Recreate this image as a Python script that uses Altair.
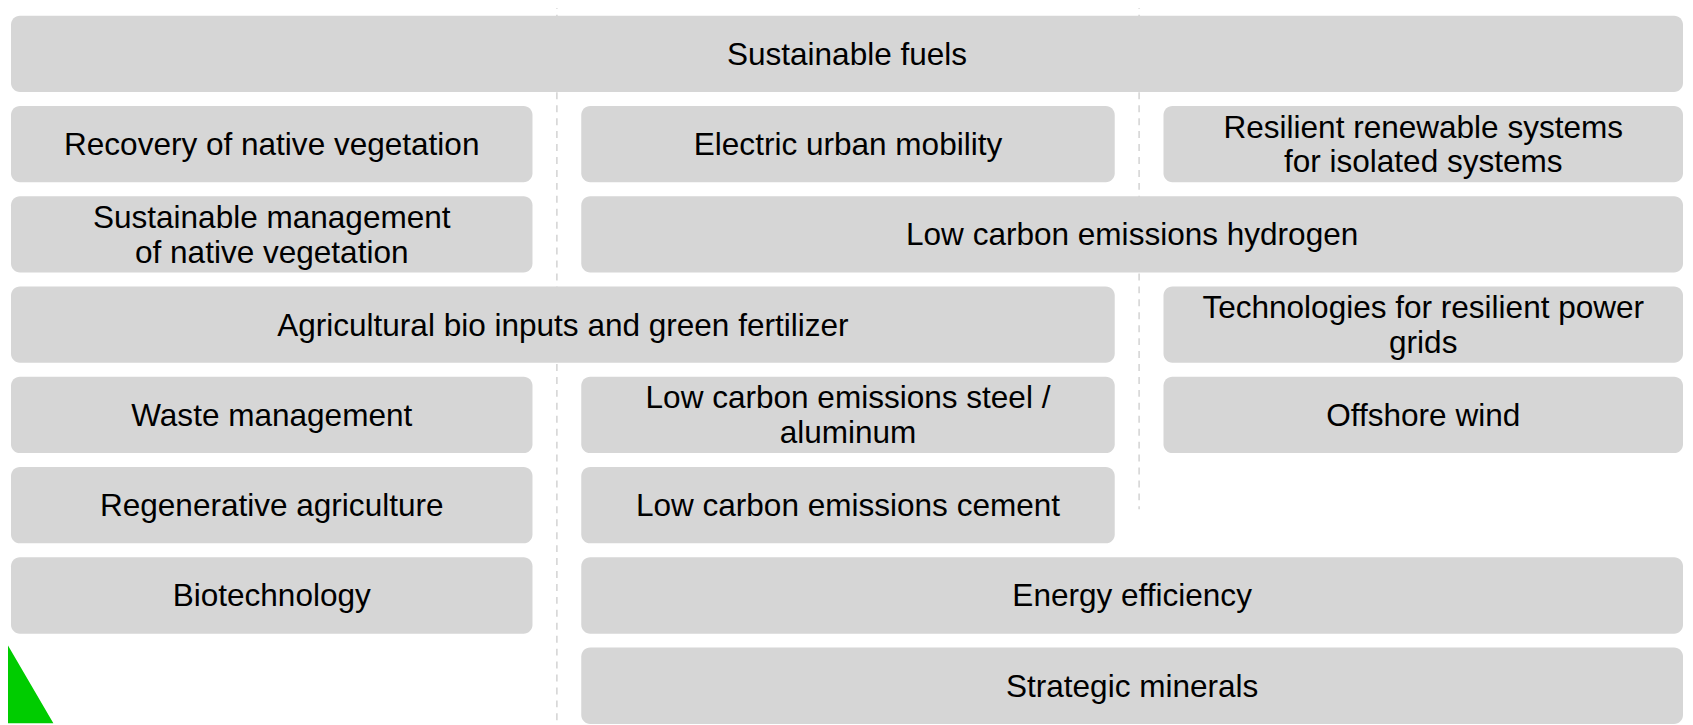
import altair as alt
import pandas as pd

# ---- content -------------------------------------------------------------
labels = [
    "Sustainable fuels",
    "Recovery of native vegetation",
    "Electric urban mobility",
    "Resilient renewable systems\nfor isolated systems",
    "Sustainable management\n of native vegetation",
    "Low carbon emissions hydrogen",
    "Agricultural bio inputs and green fertilizer",
    "Technologies for resilient power\ngrids",
    "Waste management",
    "Low carbon emissions steel /\naluminum",
    "Offshore wind",
    "Regenerative agriculture",
    "Low carbon emissions cement",
    "Biotechnology",
    "Energy efficiency",
    "Strategic minerals",
]
rows = [0, 1, 1, 1, 2, 2, 3, 3, 4, 4, 4, 5, 5, 6, 6, 7]
col_start = [0, 0, 1, 2, 0, 1, 0, 2, 0, 1, 2, 0, 1, 0, 1, 1]
col_end = [3, 1, 2, 3, 1, 3, 2, 3, 1, 2, 3, 1, 2, 1, 3, 3]

# dashed column dividers: (column boundary, last row reached in row units)
divider_col = [1, 2]
divider_row_end = [8.0, 5.49]

# ---- layout (grid -> page coordinates) -----------------------------------
COL_LEFT = [11, 584, 1169]
COL_RIGHT = [535, 1120, 1691]
ROW_TOP0, ROW_PITCH, BOX_H = 14.0, 90.7, 76.7
LINE_H = 35


def row_top(r):
    return ROW_TOP0 + r * ROW_PITCH


boxes = pd.DataFrame({
    "label": labels,
    "x0": [COL_LEFT[c] for c in col_start],
    "x1": [COL_RIGHT[c - 1] for c in col_end],
    "y0": [row_top(r) for r in rows],
    "y1": [row_top(r) + BOX_H for r in rows],
})
boxes["xc"] = (boxes["x0"] + boxes["x1"]) / 2
nlines = boxes["label"].str.count("\n") + 1
boxes["yc"] = (boxes["y0"] + boxes["y1"]) / 2 + 1 - (nlines - 1) * LINE_H / 2

dividers = pd.DataFrame({
    "x": [(COL_RIGHT[c - 1] + COL_LEFT[c]) / 2 for c in divider_col],
    "ya": [0, 0],
    "yb": [row_top(e) - 2 for e in divider_row_end],
})

tri = pd.DataFrame({"tx": [-10, 0, 53.6], "ty": [614, 633, 725], "ty2": [725, 725, 725]})

W, H = 1685, 717
xs = alt.Scale(domain=[8, 1693], nice=False, zero=False)
ys = alt.Scale(domain=[8, 725], reverse=True, nice=False, zero=False)

rules = alt.Chart(dividers).mark_rule(
    strokeDash=[7, 6], color="#d3d3d3", strokeWidth=1.5
).encode(
    x=alt.X("x:Q", scale=xs, axis=None),
    y=alt.Y("ya:Q", scale=ys, axis=None),
    y2="yb:Q",
)

triangle = alt.Chart(tri).mark_area(color="#00cc00", orient="vertical").encode(
    x=alt.X("tx:Q", scale=xs, axis=None),
    y=alt.Y("ty:Q", scale=ys, axis=None),
    y2="ty2:Q",
)

rects = alt.Chart(boxes).mark_rect(cornerRadius=9, color="#d6d6d6").encode(
    x=alt.X("x0:Q", scale=xs, axis=None),
    x2="x1:Q",
    y=alt.Y("y0:Q", scale=ys, axis=None),
    y2="y1:Q",
)

texts = alt.Chart(boxes).mark_text(
    font="Liberation Sans", fontSize=31.7, lineBreak="\n", lineHeight=LINE_H,
    color="#000000", align="center", baseline="middle",
).encode(
    x=alt.X("xc:Q", scale=xs, axis=None),
    y=alt.Y("yc:Q", scale=ys, axis=None),
    text="label:N",
)

chart = alt.layer(rules, triangle, rects, texts).properties(
    width=W, height=H, padding=0, autosize=alt.AutoSizeParams(type="none"),
    background="white",
).configure_view(strokeWidth=0)

chart.save("out.html", embed_options={"renderer": "svg", "actions": False})
